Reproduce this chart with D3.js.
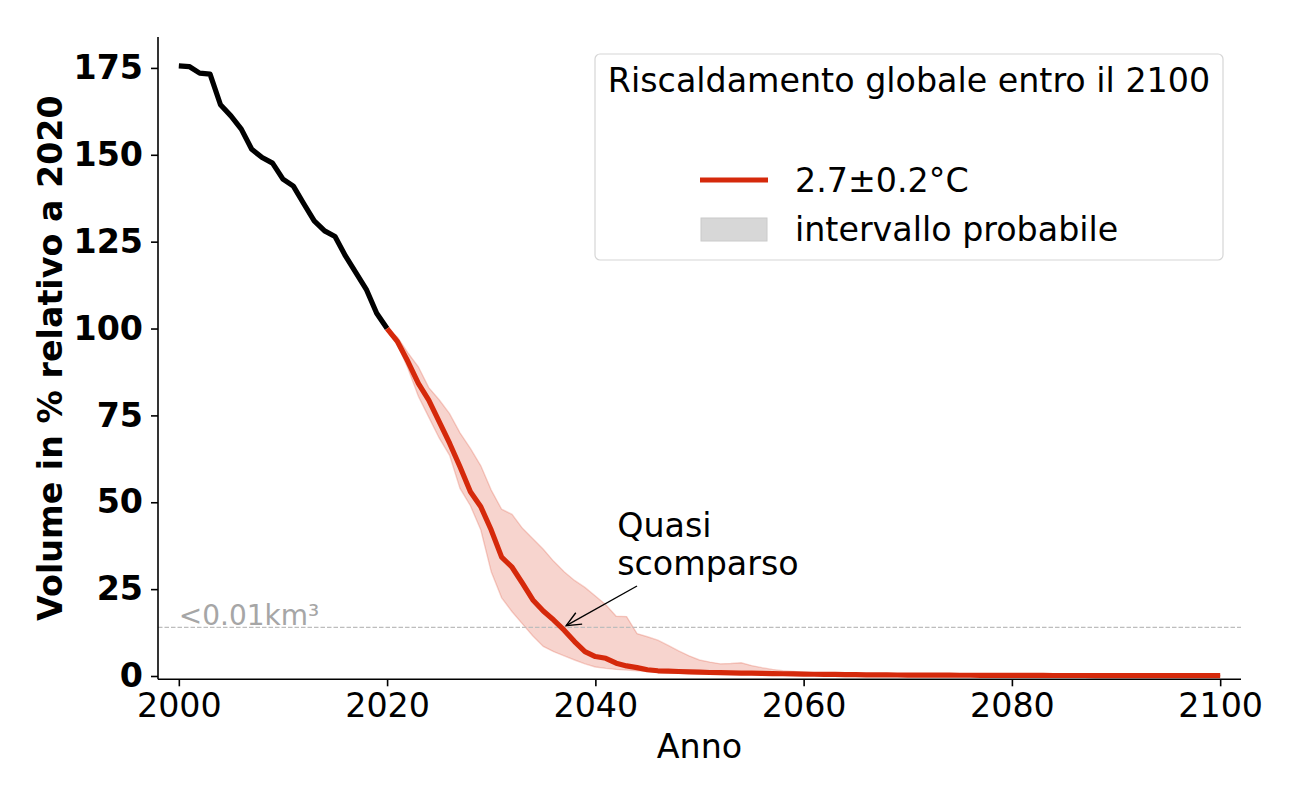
<!DOCTYPE html>
<html>
<head>
<meta charset="utf-8">
<script src="https://cdn.jsdelivr.net/npm/d3@7"></script>
<style>
html,body{margin:0;padding:0;background:#fff;}
svg text{font-family:"DejaVu Sans",sans-serif;}
</style>
</head>
<body>
<svg id="chart" width="1300" height="800"></svg>
<script>
// ---------- data ----------
const histYears = [2000,2001,2002,2003,2004,2005,2006,2007,2008,2009,2010,2011,2012,2013,2014,2015,2016,2017,2018,2019,2020];
const histValues = [175.6,175.4,173.5,173.2,164.4,161.2,157.4,151.6,149.2,147.6,143.0,141.0,135.9,131.0,128.1,126.5,120.9,116.1,111.3,104.4,100];

const projYears = [2020,2021,2022,2023,2024,2025,2026,2027,2028,2029,2030,2031,2032,2033,2034,2035,2036,2037,2038,2039,
  2040,2041,2042,2043,2044,2045,2046,2047,2048,2049,2050,2051,2052,2053,2054,2055,2056,2057,2058,2059,
  2060,2061,2062,2063,2064,2065,2066,2067,2068,2069,2070,2071,2072,2073,2074,2075,2076,2077,2078,2079,
  2080,2081,2082,2083,2084,2085,2086,2087,2088,2089,2090,2091,2092,2093,2094,2095,2096,2097,2098,2099,2100];
const projMedian = [100,96.2,90.5,84.2,79.4,73.2,67.0,60.2,53.0,48.7,42.0,34.2,31.3,26.7,21.9,18.7,16.1,13.2,9.9,7.0,
  5.6,5.1,3.7,2.9,2.4,1.8,1.5,1.4,1.3,1.2,1.1,1.0,0.95,0.9,0.85,0.8,0.75,0.7,0.65,0.6,
  0.55,0.5,0.47,0.44,0.41,0.38,0.35,0.33,0.31,0.29,0.27,0.26,0.25,0.24,0.23,0.22,0.21,0.2,0.19,0.18,
  0.17,0.17,0.16,0.16,0.15,0.15,0.14,0.14,0.13,0.13,0.12,0.12,0.12,0.11,0.11,0.11,0.1,0.1,0.1,0.1,0.1];
const projUpper = [100,97.5,93,89,83,79.5,75.5,70,65.5,60.5,53.5,48,46.5,42.5,39.5,36.5,33,30,27.5,25.5,
  23,20.5,17.2,17.1,12.2,11.3,10.3,8.8,7.2,5.8,4.6,4.0,3.5,3.6,3.8,3.0,2.4,1.9,1.5,1.3,
  1.1,0.9,0.8,0.7,0.6,0.55,0.5,0.45,0.42,0.4,0.38,0.36,0.34,0.33,0.32,0.31,0.3,0.29,0.28,0.27,
  0.26,0.25,0.24,0.24,0.23,0.22,0.22,0.21,0.2,0.2,0.19,0.19,0.18,0.18,0.17,0.17,0.16,0.16,0.15,0.15,0.15];
const projLower = [100,95.5,88.5,80.5,74.5,68.5,63.5,54,49,42,30,22.5,18.5,15,11.5,8.5,7,5.8,4.6,3.5,
  2.6,2.2,1.9,1.7,1.5,1.3,1.1,0.95,0.85,0.75,0.65,0.6,0.55,0.5,0.45,0.4,0.37,0.34,0.31,0.28,
  0.25,0.23,0.21,0.19,0.17,0.16,0.15,0.14,0.13,0.12,0.11,0.1,0.1,0.09,0.09,0.08,0.08,0.08,0.07,0.07,
  0.07,0.07,0.06,0.06,0.06,0.06,0.06,0.06,0.05,0.05,0.05,0.05,0.05,0.05,0.05,0.05,0.05,0.05,0.05,0.05,0.05];

const xTicks = [2000,2020,2040,2060,2080,2100];
const yTicks = [0,25,50,75,100,125,150,175];
const thresholdValue = 14;
const thresholdLabel = "<0.01km³";
const annotationLines = ["Quasi","scomparso"];
const annotationPoint = [2037.2, 14.5];
const annotationText = [2042.1, 40];
const annotationTail = [2044.0, 25.9];
const legendTitle = "Riscaldamento globale entro il 2100";
const legendLabels = ["2.7±0.2°C","intervallo probabile"];
const xLabel = "Anno";
const yLabel = "Volume in % relativo a 2020";

// ---------- layout ----------
const RED = "#d5290b";
const FS = 33.3;
const svg = d3.select("#chart");
const pLeft = 158, pRight = 1241, pTop = 37, pBottom = 679.3;

const x = d3.scaleLinear().domain([1998, 2102]).range([pLeft, pRight]);
const y = d3.scaleLinear().domain([-0.95, 183.9]).range([pBottom, pTop]);

// band
const proj = projYears.map((yr,i)=>({yr, m:projMedian[i], lo:projLower[i], hi:projUpper[i]}));
const area = d3.area().x(d=>x(d.yr)).y0(d=>y(d.lo)).y1(d=>y(d.hi));
svg.append("path").datum(proj).attr("d", area)
  .attr("fill", RED).attr("fill-opacity", 0.2)
  .attr("stroke", RED).attr("stroke-opacity", 0.2).attr("stroke-width", 1.4);

// threshold dashed line
svg.append("line")
  .attr("x1", x(1998)).attr("x2", x(2102))
  .attr("y1", y(thresholdValue)).attr("y2", y(thresholdValue))
  .attr("stroke", "#bdbdbd").attr("stroke-width", 1.1).attr("stroke-dasharray", "4.5,2");
svg.append("text").attr("x", x(2000)).attr("y", y(thresholdValue) - 2)
  .attr("font-size", 28).attr("fill", "#a6a6a6").text(thresholdLabel);

// lines
const line = d3.line().x(d=>x(d[0])).y(d=>y(d[1]));
svg.append("path").datum(histYears.map((yr,i)=>[yr, histValues[i]])).attr("d", line)
  .attr("fill","none").attr("stroke","#000").attr("stroke-width",5.2).attr("stroke-linejoin","round");
svg.append("path").datum(proj.map(d=>[d.yr, d.m])).attr("d", line)
  .attr("fill","none").attr("stroke",RED).attr("stroke-width",5.2).attr("stroke-linejoin","round");

// axes
const xAxis = d3.axisBottom(x).tickValues(xTicks).tickFormat(d3.format("d")).tickSize(7).tickPadding(7);
const gx = svg.append("g").attr("transform", `translate(0,${pBottom})`).call(xAxis);
gx.select(".domain").attr("stroke-width", 1.6).attr("d", `M${pLeft},0H${pRight}`);
gx.selectAll(".tick line").attr("stroke-width", 1.6);
gx.selectAll(".tick text").attr("font-size", FS).attr("font-family", "DejaVu Sans").attr("fill", "#000");

const yAxis = d3.axisLeft(y).tickValues(yTicks).tickSize(7).tickPadding(8);
const gy = svg.append("g").attr("transform", `translate(${pLeft},0)`).call(yAxis);
gy.select(".domain").attr("stroke-width", 1.6).attr("d", `M0,${pTop}V${pBottom}`);
gy.selectAll(".tick line").attr("stroke-width", 1.6);
gy.selectAll(".tick text").attr("font-size", FS).attr("font-weight", "bold")
  .attr("font-family", "DejaVu Sans").attr("fill", "#000");

svg.append("text").attr("x", (pLeft+pRight)/2).attr("y", 758).attr("text-anchor","middle")
  .attr("font-size", FS).text(xLabel);
svg.append("text").attr("transform", `translate(62,${(pTop+pBottom)/2}) rotate(-90)`)
  .attr("text-anchor","middle").attr("font-size",FS).attr("font-weight","bold").text(yLabel);

// annotation
const ann = svg.append("text").attr("x", x(annotationText[0])).attr("y", y(annotationText[1]))
  .attr("font-size", FS);
annotationLines.forEach((t,i)=>ann.append("tspan").attr("x", x(annotationText[0])).attr("dy", i===0?0:38).text(t));
const ax0 = x(annotationTail[0]), ay0 = y(annotationTail[1]);
const ax1 = x(annotationPoint[0]), ay1 = y(annotationPoint[1]);
svg.append("line").attr("x1",ax0).attr("y1",ay0).attr("x2",ax1).attr("y2",ay1)
  .attr("stroke","#000").attr("stroke-width",1.4);
const ang = Math.atan2(ay0-ay1, ax0-ax1);
const hl = 16, hw = 0.42;
svg.append("path")
  .attr("d", `M${ax1+hl*Math.cos(ang+hw)},${ay1+hl*Math.sin(ang+hw)}L${ax1},${ay1}L${ax1+hl*Math.cos(ang-hw)},${ay1+hl*Math.sin(ang-hw)}`)
  .attr("fill","none").attr("stroke","#000").attr("stroke-width",1.4);

// legend
const lg = svg.append("g");
lg.append("rect").attr("x",595).attr("y",54).attr("width",628).attr("height",206).attr("rx",5)
  .attr("fill","#fff").attr("fill-opacity",0.8).attr("stroke","#d6d6d6").attr("stroke-width",1.2);
lg.append("text").attr("x",909).attr("y",92).attr("text-anchor","middle").attr("font-size",FS).text(legendTitle);
lg.append("line").attr("x1",700).attr("x2",768).attr("y1",180).attr("y2",180)
  .attr("stroke",RED).attr("stroke-width",5.2);
lg.append("text").attr("x",795).attr("y",192).attr("font-size",FS).text(legendLabels[0]);
lg.append("rect").attr("x",701).attr("y",218).attr("width",66).attr("height",23)
  .attr("fill","#d7d7d7").attr("stroke","#cacaca").attr("stroke-width",1);
lg.append("text").attr("x",795).attr("y",241).attr("font-size",FS).text(legendLabels[1]);
</script>
</body>
</html>
